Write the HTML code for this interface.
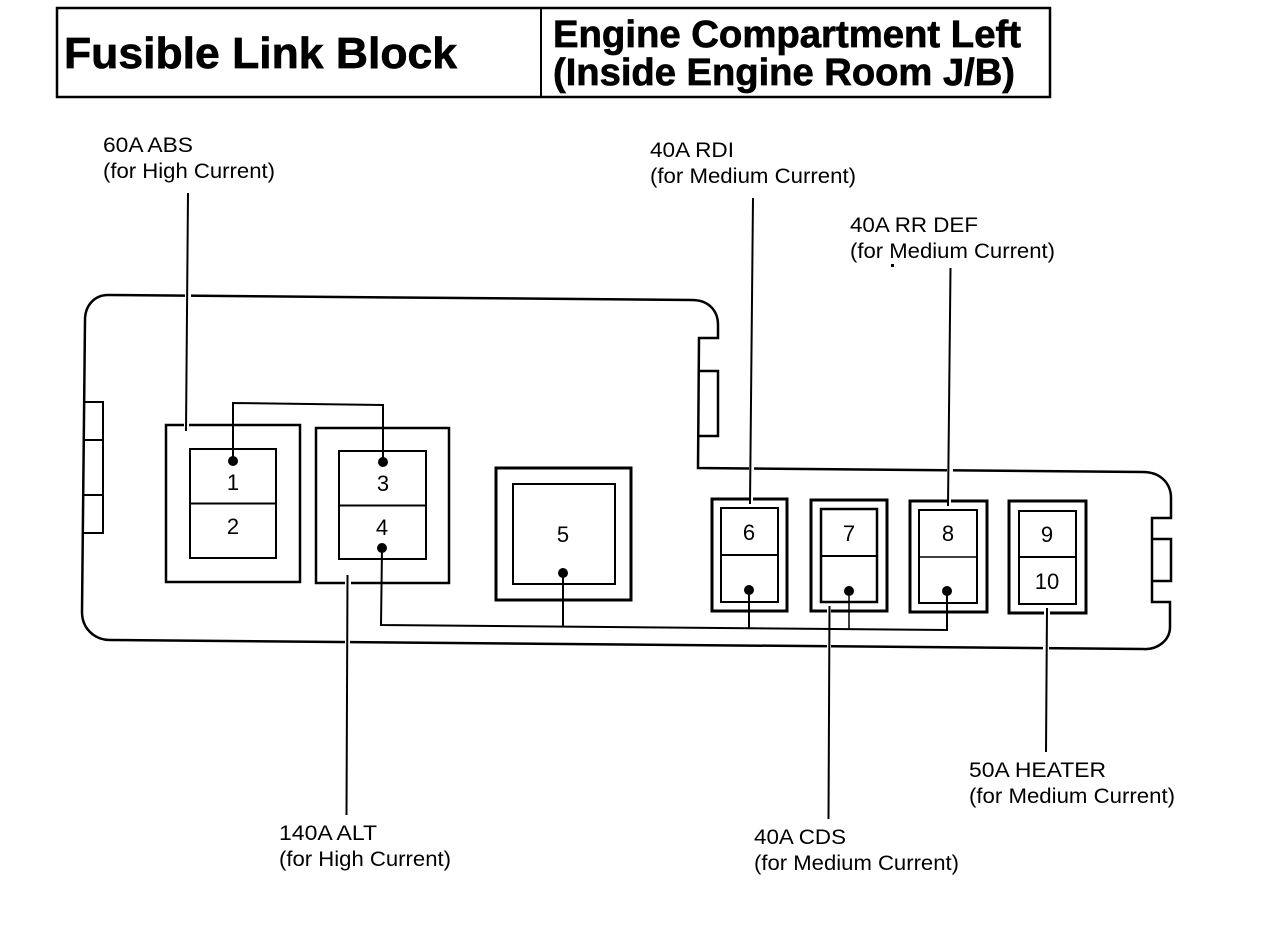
<!DOCTYPE html>
<html>
<head>
<meta charset="utf-8">
<style>
html,body{margin:0;padding:0;background:#fff;width:1264px;height:926px;overflow:hidden}
svg{display:block}
text{font-family:"Liberation Sans",sans-serif;fill:#000}
.l{font-size:21.5px}
.n{font-size:22px;text-anchor:middle}
.h{font-weight:bold;stroke:#000;stroke-width:.7}
</style>
</head>
<body>
<svg width="1264" height="926" viewBox="0 0 1264 926" xmlns="http://www.w3.org/2000/svg">
<g fill="none" stroke="#000">
<!-- header -->
<rect x="57" y="8" width="993" height="89" stroke-width="2.5"/>
<line x1="541" y1="8" x2="541" y2="97" stroke-width="2"/>

<!-- body outline -->
<path d="M85 320 C85 305 95 295 108 295 L692 300 C708 300 718 310 718 325 L718 338 L699 338 L698 468 L1143 472 C1160 472 1171 483 1171 498 L1171 518 L1152 518 L1152 602 L1170 602 L1170 627 C1170 640 1158 650 1143 649 L110 640 C94 640 82 628 82 612 Z" stroke-width="2.5"/>
<!-- tabs -->
<path d="M84 402 H103 V440 H84 M103 440 V495 H84 M103 495 V533 H84" stroke-width="2"/>
<path d="M699 371 H718 V436 H699" stroke-width="2.5"/>
<path d="M1152 539 H1171 V581 H1152" stroke-width="2.5"/>

<!-- box 1-2 -->
<rect x="166" y="425" width="134" height="157" stroke-width="2.5"/>
<rect x="190" y="449" width="86" height="109" stroke-width="2"/>
<line x1="190" y1="503.500" x2="276" y2="503.500" stroke-width="2"/>
<!-- box 3-4 -->
<rect x="316" y="428" width="133" height="155" stroke-width="2.5"/>
<rect x="339" y="451" width="87" height="108" stroke-width="2"/>
<line x1="339" y1="505.500" x2="426" y2="505.500" stroke-width="2"/>
<!-- box 5 -->
<rect x="496" y="468" width="135" height="132" stroke-width="3"/>
<rect x="513" y="484" width="102" height="100" stroke-width="2"/>
<!-- box 6 -->
<rect x="712" y="499" width="75" height="112" stroke-width="3"/>
<rect x="721" y="508" width="57" height="94" stroke-width="2"/>
<line x1="721" y1="555" x2="778" y2="555" stroke-width="2"/>
<!-- box 7 -->
<rect x="811" y="500" width="76" height="111" stroke-width="3"/>
<rect x="821" y="509" width="56" height="93" stroke-width="2.500"/>
<line x1="821" y1="556" x2="877" y2="556" stroke-width="2"/>
<!-- box 8 -->
<rect x="910" y="501" width="77" height="111" stroke-width="3"/>
<rect x="919" y="510" width="58" height="93" stroke-width="2"/>
<line x1="919" y1="557" x2="977" y2="557" stroke-width="1.500"/>
<!-- box 9-10 -->
<rect x="1009" y="501" width="77" height="112" stroke-width="3"/>
<rect x="1019" y="511" width="57" height="93" stroke-width="2"/>
<line x1="1019" y1="557" x2="1076" y2="557" stroke-width="2"/>
</g>

<!-- white gaps where leaders cross -->
<g fill="#fff" stroke="none">
<rect x="185" y="292" width="6" height="7"/>
<rect x="184" y="421" width="5" height="8"/>
<rect x="345" y="578" width="6" height="8"/>
<rect x="345" y="636" width="5" height="8"/>
<rect x="749" y="464" width="5" height="8"/>
<rect x="749" y="495" width="4" height="8"/>
<rect x="947" y="468" width="6" height="7"/>
<rect x="947" y="497" width="4" height="8"/>
<rect x="827" y="607" width="4" height="8"/>
<rect x="827" y="642" width="4" height="8"/>
<rect x="1044" y="609" width="6" height="8"/>
<rect x="1043" y="644" width="6" height="8"/>
</g>

<!-- leaders and wires -->
<g fill="none" stroke="#000" stroke-width="2">
<path d="M188 193 L186 431"/>
<path d="M347.500 575 L346.500 815"/>
<path d="M753 198 L750 504"/>
<path d="M950.500 268 L948 506"/>
<path d="M829.500 606 L828.500 819"/>
<path d="M1047 608 L1046 752"/>
<path d="M233 461 V403 L383 405 V462"/>
<path d="M382 548 L381 625 L947 630 V591"/>
<path d="M563 573 V627"/>
<path d="M749 590 V628"/>
<path d="M849 591 V629" stroke-width="1.500"/>
</g>

<!-- dots -->
<g fill="#000">
<circle cx="233" cy="461" r="5"/>
<circle cx="383" cy="462" r="5"/>
<circle cx="382" cy="548" r="5"/>
<circle cx="563" cy="573" r="5"/>
<circle cx="749" cy="590" r="5"/>
<circle cx="849" cy="591" r="5"/>
<circle cx="947" cy="591" r="5"/>
<rect x="891" y="264" width="3" height="3"/>
</g>

<!-- header text -->
<text class="h" x="64" y="68" font-size="44" textLength="393" lengthAdjust="spacingAndGlyphs">Fusible Link Block</text>
<text class="h" x="553" y="47" font-size="38" textLength="468" lengthAdjust="spacingAndGlyphs">Engine Compartment Left</text>
<text class="h" x="553" y="85" font-size="38" textLength="462" lengthAdjust="spacingAndGlyphs">(Inside Engine Room J/B)</text>

<!-- numbers -->
<text class="n" x="233" y="490">1</text>
<text class="n" x="233" y="534">2</text>
<text class="n" x="383" y="491">3</text>
<text class="n" x="382" y="535">4</text>
<text class="n" x="563" y="542">5</text>
<text class="n" x="749" y="540">6</text>
<text class="n" x="849" y="541">7</text>
<text class="n" x="948" y="541">8</text>
<text class="n" x="1047" y="542">9</text>
<text class="n" x="1047" y="589">10</text>

<!-- labels -->
<text class="l" x="103" y="152" textLength="90" lengthAdjust="spacingAndGlyphs">60A ABS</text>
<text class="l" x="103" y="178" textLength="172" lengthAdjust="spacingAndGlyphs">(for High Current)</text>
<text class="l" x="650" y="157" textLength="84" lengthAdjust="spacingAndGlyphs">40A RDI</text>
<text class="l" x="650" y="183" textLength="206" lengthAdjust="spacingAndGlyphs">(for Medium Current)</text>
<text class="l" x="850" y="232" textLength="128" lengthAdjust="spacingAndGlyphs">40A RR DEF</text>
<text class="l" x="850" y="258" textLength="205" lengthAdjust="spacingAndGlyphs">(for Medium Current)</text>
<text class="l" x="969" y="777" textLength="137" lengthAdjust="spacingAndGlyphs">50A HEATER</text>
<text class="l" x="969" y="803" textLength="206" lengthAdjust="spacingAndGlyphs">(for Medium Current)</text>
<text class="l" x="279" y="840" textLength="98" lengthAdjust="spacingAndGlyphs">140A ALT</text>
<text class="l" x="279" y="866" textLength="172" lengthAdjust="spacingAndGlyphs">(for High Current)</text>
<text class="l" x="754" y="844" textLength="92" lengthAdjust="spacingAndGlyphs">40A CDS</text>
<text class="l" x="754" y="870" textLength="205" lengthAdjust="spacingAndGlyphs">(for Medium Current)</text>
</svg>
</body>
</html>
